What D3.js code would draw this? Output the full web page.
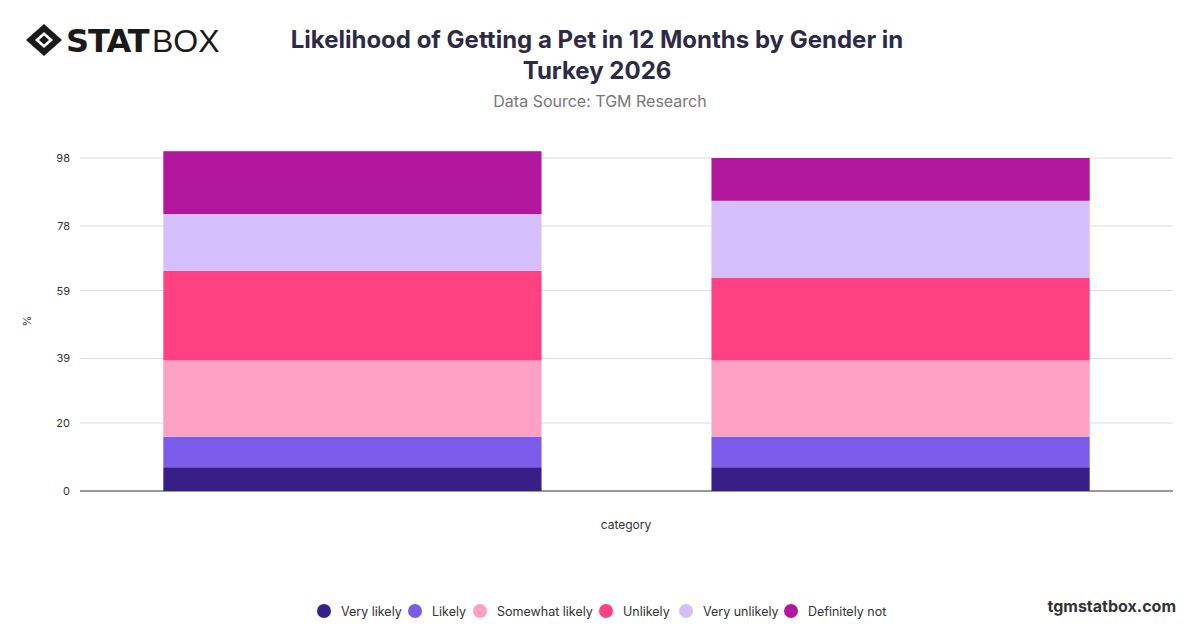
<!DOCTYPE html>
<html><head><meta charset="utf-8">
<script src="https://cdn.jsdelivr.net/npm/d3@7"></script>
<style>body{margin:0;background:#fff;font-family:Inter,"Open Sans",sans-serif}</style>
</head><body><svg id="c" width="1200" height="628"></svg>
<script>
const categories = ["Male", "Female"];
const seriesNames = ["Very likely","Likely","Somewhat likely","Unlikely","Very unlikely","Definitely not"];
const colors = ["#371F87","#7B5CEA","#FDA1C3","#FF4081","#D4BEFB","#B2189E"];
const veryLikely = [7.0, 7.0];
const likely = [9.0, 9.0];
const somewhatLikely = [22.4, 22.4];
const unlikely = [26.4, 24.4];
const veryUnlikely = [16.7, 22.6];
const definitelyNot = [18.5, 12.6];
const tickValues = [0, 20, 39, 59, 78, 98];

const svg = d3.select("#c");
const data = categories.map((c,i)=>({cat:c, "Very likely":veryLikely[i], "Likely":likely[i], "Somewhat likely":somewhatLikely[i], "Unlikely":unlikely[i], "Very unlikely":veryUnlikely[i], "Definitely not":definitelyNot[i]}));
const stack = d3.stack().keys(seriesNames)(data);
const m = {l:80, r:1173, t:151, b:491};
const x = d3.scaleBand().domain(categories).range([m.l, m.r]).paddingInner(0.31).paddingOuter(0.152);
const y = d3.scaleLinear().domain([0, 98]).range([m.b, 158]);

svg.append("g").selectAll("line").data(tickValues).join("line")
  .attr("x1", m.l).attr("x2", m.r).attr("y1", d=>y(d)).attr("y2", d=>y(d))
  .attr("stroke", d=>d===0?"#333":"#ddd").attr("stroke-width",1);
svg.append("g").selectAll("text").data(tickValues).join("text")
  .attr("x", 70).attr("y", d=>y(d)+4).attr("text-anchor","end")
  .attr("font-size", 11).attr("fill","#333").text(d=>d);

svg.append("g").selectAll("g").data(stack).join("g").attr("fill",(d,i)=>colors[i])
  .selectAll("rect").data(d=>d).join("rect")
  .attr("x", d=>x(d.data.cat)).attr("width", x.bandwidth())
  .attr("y", d=>y(d[1])).attr("height", d=>y(d[0])-y(d[1]));

svg.append("text").attr("transform","translate(31,321) rotate(-90)").attr("text-anchor","middle")
  .attr("font-size",11).attr("fill","#333").text("%");
svg.append("text").attr("x",626).attr("y",529).attr("text-anchor","middle").attr("font-size",12).attr("fill","#333").text("category");

svg.append("text").attr("x",597).attr("y",48).attr("text-anchor","middle").attr("font-size",24).attr("font-weight",700).attr("fill","#2d2a45").text("Likelihood of Getting a Pet in 12 Months by Gender in");
svg.append("text").attr("x",597).attr("y",79).attr("text-anchor","middle").attr("font-size",24).attr("font-weight",700).attr("fill","#2d2a45").text("Turkey 2026");
svg.append("text").attr("x",600).attr("y",107).attr("text-anchor","middle").attr("font-size",16).attr("fill","#777").text("Data Source: TGM Research");

const lg = svg.append("g").attr("transform","translate(44,40)");
lg.append("path").attr("d","M-18,0 L0,-16 L18,0 L0,16 Z").attr("fill","#1a1a1a");
lg.append("path").attr("d","M-9,0 L0,-8 L9,0 L0,8 Z").attr("fill","#fff");
lg.append("path").attr("d","M-5,0 L0,-4.5 L5,0 L0,4.5 Z").attr("fill","#1a1a1a");
svg.append("text").attr("x",66).attr("y",52).attr("font-size",32).attr("font-weight",900).attr("fill","#1a1a1a").attr("font-family","'DejaVu Sans'").attr("letter-spacing",-1).text("STAT");
svg.append("text").attr("x",152).attr("y",52).attr("font-size",32).attr("font-weight",300).attr("fill","#1a1a1a").attr("font-family","'Liberation Sans'").text("BOX");

const lx = [324,415,480,606,686,791];
const leg = svg.append("g").selectAll("g").data(seriesNames).join("g").attr("transform",(d,i)=>`translate(${lx[i]},611)`);
leg.append("circle").attr("r",7).attr("fill",(d,i)=>colors[i]);
leg.append("text").attr("x",17).attr("y",4.5).attr("font-size",12.5).attr("fill","#333").text(d=>d);

svg.append("text").attr("x",1176).attr("y",612).attr("text-anchor","end").attr("font-size",16).attr("font-weight",700).attr("fill","#333").text("tgmstatbox.com");
</script></body></html>
